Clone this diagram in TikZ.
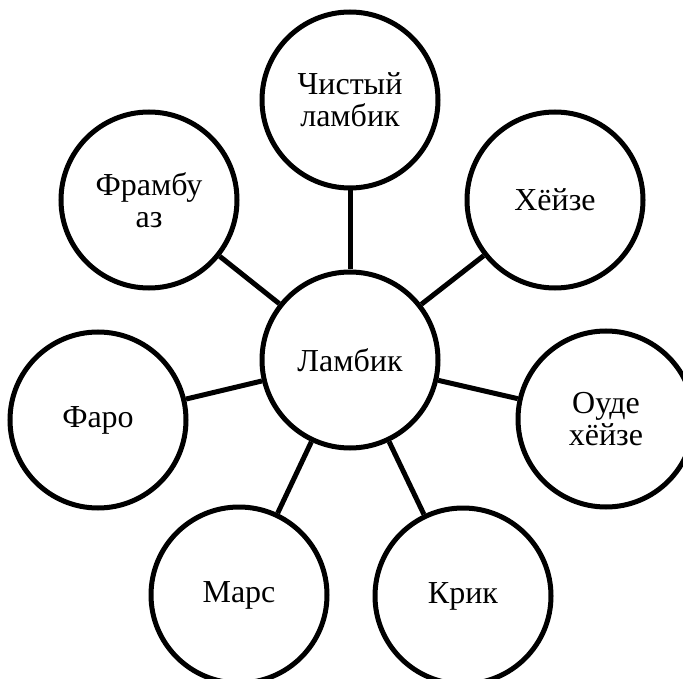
\documentclass[tikz,border=0pt]{standalone}
\usepackage{fontspec}
\setmainfont{Liberation Serif}
\begin{document}
\begin{tikzpicture}[x=1pt,y=-1pt,
  bub/.style={circle,draw=black,line width=5pt,minimum size=176pt,inner sep=0pt,
    align=center,font=\fontsize{32}{32}\selectfont,fill=white},
  link/.style={line width=5pt,draw=black}]
\useasboundingbox (0,0) rectangle (683,679);
\clip (0,0) rectangle (683,679);
\node[bub] (c) at (350,360) {Ламбик};
\node[bub] (t) at (350,100) {Чистый\\ламбик};
\node[bub] (f) at (149,200) {Фрамбу\\аз};
\node[bub] (h) at (555,200) {Хёйзе};
\node[bub] (fa) at (98,420) {Фаро};
\node[bub] (o) at (606,419) {Оуде\\хёйзе};
\node[bub] (m) at (239,595) {Марс};
\node[bub] (k) at (463,596) {Крик};
\foreach \n in {t,f,h,fa,o,m,k} \draw[link] (c) -- (\n);
\end{tikzpicture}
\end{document}
